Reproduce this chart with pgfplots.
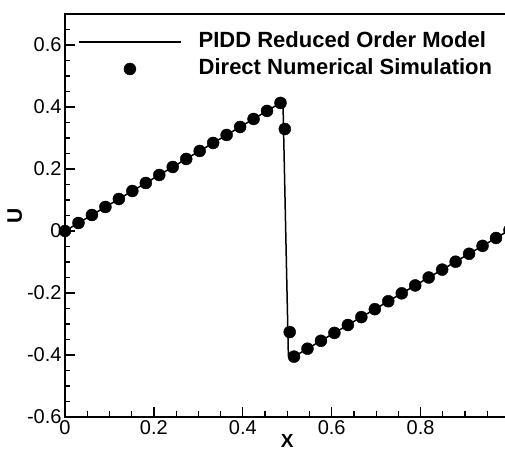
\documentclass[border=0pt]{standalone}
\usepackage{pgfplots}
\pgfplotsset{compat=1.18}
\usepackage{fontspec}
\setmainfont{Liberation Sans}
\begin{document}
\begin{tikzpicture}
\begin{axis}[
  name=ax,
  scale only axis,
  width=444.5pt, height=403pt,
  xmin=0, xmax=1, ymin=-0.6, ymax=0.7,
  xtick={0,0.2,0.4,0.6,0.8},
  minor xtick={0.05,0.1,0.15,0.25,0.3,0.35,0.45,0.5,0.55,0.65,0.7,0.75,0.85,0.9,0.95},
  ytick={-0.6,-0.4,-0.2,0,0.2,0.4,0.6},
  minor ytick={-0.55,-0.5,-0.45,-0.35,-0.3,-0.25,-0.15,-0.1,-0.05,0.05,0.1,0.15,0.25,0.3,0.35,0.45,0.5,0.55,0.65},
  tick align=inside,
  tick pos=left,
  major tick length=10pt,
  minor tick length=5.5pt,
  axis line style={line width=1.6pt},
  every tick/.style={black, line width=1.2pt},
  /pgf/number format/assume math mode=true,
  tick label style={font=\fontsize{20}{24}\selectfont},
  xlabel={X}, ylabel={U},
  xlabel style={font=\bfseries\fontsize{19}{22}\selectfont, yshift=7pt},
  ylabel style={font=\bfseries\fontsize{21}{24}\selectfont, yshift=-2pt},
  legend style={draw=none, fill=none, at={(rel axis cs:0.029,0.957)}, anchor=north west,
    font=\bfseries\fontsize{22}{26}\selectfont, row sep=6pt, inner sep=0pt,
    nodes={inner sep=0pt, text height=16pt, text depth=5pt}},
  legend cell align=left,
]
\addplot[black, line width=1.5pt, mark=none,
  legend image code/.code={\draw[black, line width=1.7pt] (0pt,0pt) -- (102pt,0pt); \path (119pt,0pt);}]
  coordinates {
(0,0) (0.0303,0.0258) (0.0606,0.0516) (0.0909,0.0775) (0.1212,0.1033) (0.1515,0.1291)
(0.1818,0.1549) (0.2121,0.1807) (0.2424,0.2065) (0.2727,0.2324) (0.3030,0.2582)
(0.3333,0.2840) (0.3636,0.3098) (0.3939,0.3356) (0.4242,0.3614) (0.4545,0.3873)
(0.4848,0.4131) (0.4905,0.408) (0.5025,-0.402) (0.5152,-0.4052)
(0.5455,-0.3797) (0.5758,-0.3542) (0.6061,-0.3287) (0.6364,-0.3032) (0.6667,-0.2777)
(0.6970,-0.2522) (0.7273,-0.2266) (0.7576,-0.2011) (0.7879,-0.1756) (0.8182,-0.1501)
(0.8485,-0.1246) (0.8788,-0.0991) (0.9091,-0.0735) (0.9394,-0.0480) (0.9697,-0.0225)
(1.0,0.003)
};
\addlegendentry{PIDD Reduced Order Model}
\addplot[only marks, mark=*, mark size=6pt, black,
  legend image code/.code={\fill[black] (51pt,0pt) circle (6pt); \path (0pt,0pt) (119pt,0pt);}]
  coordinates {
(0,0) (0.0303,0.0258) (0.0606,0.0516) (0.0909,0.0775) (0.1212,0.1033) (0.1515,0.1291)
(0.1818,0.1549) (0.2121,0.1807) (0.2424,0.2065) (0.2727,0.2324) (0.3030,0.2582)
(0.3333,0.2840) (0.3636,0.3098) (0.3939,0.3356) (0.4242,0.3614) (0.4545,0.3873)
(0.4848,0.4131) (0.4945,0.329) (0.5055,-0.326) (0.5152,-0.4052)
(0.5455,-0.3797) (0.5758,-0.3542) (0.6061,-0.3287) (0.6364,-0.3032) (0.6667,-0.2777)
(0.6970,-0.2522) (0.7273,-0.2266) (0.7576,-0.2011) (0.7879,-0.1756) (0.8182,-0.1501)
(0.8485,-0.1246) (0.8788,-0.0991) (0.9091,-0.0735) (0.9394,-0.0480) (0.9697,-0.0225)
(1.0,0.003)
};
\addlegendentry{Direct Numerical Simulation}
\end{axis}
\pgfresetboundingbox
\path[use as bounding box] ([xshift=-65pt,yshift=-37pt]ax.south west) rectangle ([xshift=-4.5pt,yshift=14pt]ax.north east);
\end{tikzpicture}
\end{document}
